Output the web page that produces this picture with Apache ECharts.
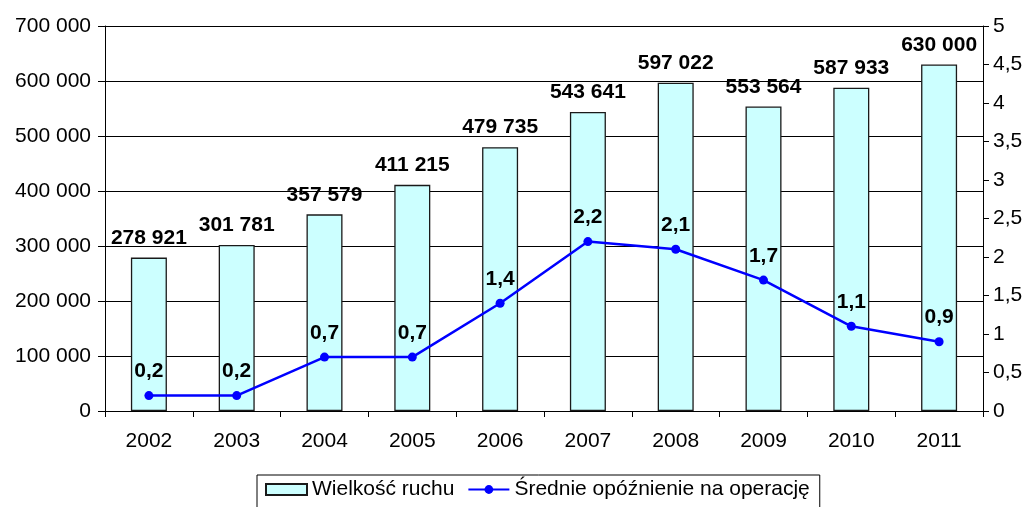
<!DOCTYPE html>
<html>
<head>
<meta charset="utf-8">
<script src="https://cdn.jsdelivr.net/npm/echarts@6/dist/echarts.min.js"></script>
<style>
html,body{margin:0;padding:0;background:#fff;}
#chart{width:1029px;height:507px;}
</style>
</head>
<body>
<div id="chart"></div>
<script>
var years = ['2002','2003','2004','2005','2006','2007','2008','2009','2010','2011'];
var traffic = [278921, 301781, 357579, 411215, 479735, 543641, 597022, 553564, 587933, 630000];
var delay = [0.2, 0.2, 0.7, 0.7, 1.4, 2.2, 2.1, 1.7, 1.1, 0.9];

var chart = echarts.init(document.getElementById('chart'));

// 630000 -> "630 000"
function fmtThousands(v){
    return String(v).replace(/\B(?=(\d{3})+(?!\d))/g, ' ');
}
function fmtComma(v){
    return String(v).replace('.', ',');
}

var font = 'Liberation Sans, Arial, sans-serif';

var option = {
    animation: false,
    textStyle: {fontFamily: font},
    grid: {left: 105, right: 46, top: 26, bottom: 96},
    legend: {
        top: 475,
        left: 257,
        itemGap: 13,
        itemWidth: 41,
        itemHeight: 11,
        padding: [4, 10, 8, 8],
        borderColor: '#000',
        borderWidth: 1,
        borderRadius: 0,
        textStyle: {fontSize: 21, color: '#000', fontFamily: font},
        data: [
            {name: 'Wielkość ruchu', icon: 'rect'},
            {name: 'Średnie opóźnienie na operację'}
        ]
    },
    xAxis: {
        type: 'category',
        data: years,
        axisLine: {lineStyle: {color: '#000'}},
        axisTick: {show: true, length: 6, lineStyle: {color: '#000'}},
        axisLabel: {fontSize: 21, color: '#000', margin: 20}
    },
    yAxis: [
        {
            type: 'value',
            min: 0, max: 700000, interval: 100000,
            axisLine: {show: true, lineStyle: {color: '#000'}},
            axisTick: {show: true, length: 7, lineStyle: {color: '#000'}},
            splitLine: {lineStyle: {color: '#000', width: 1}},
            axisLabel: {fontSize: 21, color: '#000', margin: 14, formatter: fmtThousands}
        },
        {
            type: 'value',
            min: 0, max: 5, interval: 0.5,
            axisLine: {show: true, lineStyle: {color: '#000'}},
            axisTick: {show: true, length: 6, lineStyle: {color: '#000'}},
            splitLine: {show: false},
            axisLabel: {fontSize: 21, color: '#000', margin: 10, formatter: fmtComma}
        }
    ],
    series: [
        {
            name: 'Wielkość ruchu',
            type: 'bar',
            data: traffic,
            barWidth: 36,
            itemStyle: {color: '#CCFFFF', borderColor: '#1a1a1a', borderWidth: 1.3},
            label: {
                show: true, position: 'top', distance: 9,
                fontSize: 21, fontWeight: 'bold', color: '#000',
                formatter: function(p){ return fmtThousands(p.value); }
            }
        },
        {
            name: 'Średnie opóźnienie na operację',
            type: 'line',
            yAxisIndex: 1,
            data: delay,
            symbol: 'circle',
            symbolSize: 9,
            lineStyle: {color: '#0000FF', width: 2.5},
            itemStyle: {color: '#0000FF'},
            label: {
                show: true, position: 'top', distance: 9,
                fontSize: 21, fontWeight: 'bold', color: '#000',
                formatter: function(p){ return fmtComma(p.value); }
            }
        }
    ]
};

chart.setOption(option);
</script>
</body>
</html>
